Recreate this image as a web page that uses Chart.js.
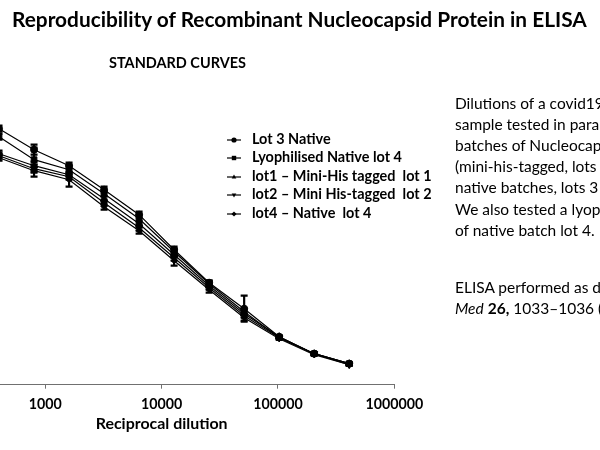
<!DOCTYPE html>
<html><head><meta charset="utf-8">
<script src="https://cdn.jsdelivr.net/npm/chart.js@4.4.1/dist/chart.umd.min.js"></script>
<style>
html,body{margin:0;padding:0;width:600px;height:450px;overflow:hidden;background:#fff;color:#000}
#wrap{position:relative;width:600px;height:450px;overflow:hidden;font-family:Lato,'Open Sans',sans-serif}
#cbox{position:absolute;left:-76px;top:0;width:676px;height:450px}
.t{position:absolute;white-space:nowrap;line-height:1;margin:0}
.lm{position:absolute}
</style></head><body>
<div id="wrap">
  <div id="cbox"><canvas id="cv" width="676" height="450"></canvas></div>
</div>
<script>
// ---------- data ----------
const dilutions = [400, 800, 1600, 3200, 6400, 12800, 25600, 51200, 102400, 204800, 409600];
const seriesNames = ['Lot 3 Native', 'Lyophilised Native lot 4', 'lot1 \u2013 Mini-His tagged  lot 1', 'lot2 \u2013 Mini His-tagged  lot 2', 'lot4 \u2013 Native  lot 4'];
const lot3Native   = [2.56, 2.35, 2.19, 1.95, 1.70, 1.35, 1.02, 0.76, 0.48, 0.31, 0.21];
const lyoLot4      = [2.48, 2.25, 2.15, 1.91, 1.66, 1.33, 1.01, 0.73, 0.47, 0.31, 0.21];
const lot1MiniHis  = [2.31, 2.19, 2.10, 1.86, 1.61, 1.30, 0.99, 0.71, 0.48, 0.31, 0.21];
const lot2MiniHis  = [2.29, 2.16, 2.08, 1.82, 1.57, 1.27, 0.97, 0.69, 0.47, 0.31, 0.20];
const lot4Native   = [2.27, 2.14, 2.05, 1.78, 1.54, 1.24, 0.95, 0.67, 0.46, 0.30, 0.20];
const lot3Err      = [0.03, 0.05, 0.03, 0.03, 0.03, 0.03, 0.02, 0.13, 0.01, 0.01, 0.01];
const lyoErr       = [0.03, 0.12, 0.04, 0.03, 0.04, 0.03, 0.03, 0.03, 0.01, 0.01, 0.01];
const lot1Err      = [0.03, 0.04, 0.03, 0.03, 0.03, 0.03, 0.02, 0.02, 0.01, 0.01, 0.01];
const lot2Err      = [0.03, 0.04, 0.03, 0.03, 0.03, 0.03, 0.02, 0.02, 0.01, 0.01, 0.01];
const lot4Err      = [0.03, 0.06, 0.07, 0.03, 0.03, 0.05, 0.03, 0.03, 0.01, 0.01, 0.01];
const xTickValues  = [1000, 10000, 100000, 1000000];
const pointStyles  = ['circle', 'rect', 'triangle', 'triangle', 'rectRot'];
const pointRotations = [0, 0, 0, 180, 0];
const pointRadii   = [3.5, 4, 4, 4, 3];

const FAMILY = "Lato, 'Open Sans', sans-serif";
const mctx = document.createElement('canvas').getContext('2d');
function fitSize(text, weight, style, target) {
  mctx.font = `${style} ${weight} 100px ${FAMILY}`;
  return 100 * target / mctx.measureText(text).width;
}
const wrap = document.getElementById('wrap');
function addText(html, x, baseline, fs, weight, style) {
  const d = document.createElement('div');
  d.className = 't';
  d.innerHTML = html;
  d.style.fontSize = fs + 'px';
  d.style.fontWeight = weight || 'normal';
  d.style.fontStyle = style || 'normal';
  d.style.left = x + 'px';
  d.style.top = (baseline - 0.887 * fs) + 'px';
  wrap.appendChild(d);
  return d;
}

// ---------- titles ----------
const mainTitle = 'Reproducibility of Recombinant Nucleocapsid Protein in ELISA';
addText(mainTitle, 12, 27, fitSize(mainTitle, 'bold', 'normal', 576), 'bold');
const sub = 'STANDARD CURVES';
addText(sub, 109, 68.5, fitSize(sub, 'bold', 'normal', 137), 'bold');

// ---------- right text ----------
const bodyFs = fitSize('of native batch lot 4.', 'normal', 'normal', 140);
const bodyLines = [
  'Dilutions of a covid19 positive serum',
  'sample tested in parallel on different',
  'batches of Nucleocapsid protein',
  '(mini-his-tagged, lots 1 and 2;',
  'native batches, lots 3 and 4).',
  'We also tested a lyophilised sample',
  'of native batch lot 4.'
];
bodyLines.forEach((l, i) => addText(l, 455, 109.8 + 21.1 * i, bodyFs));
addText('ELISA performed as described in Nat', 455, 293.5, bodyFs);
addText('<i>Med</i> <b>26,</b> 1033\u20131036 (2020).', 455, 315.2, bodyFs);

// ---------- chart ----------
const tickFs = fitSize('1000', 'bold', 'normal', 33);
const axisTitleFs = fitSize('Reciprocal dilution', 'bold', 'normal', 132);
const values = [lot3Native, lyoLot4, lot1MiniHis, lot2MiniHis, lot4Native];
const errors = [lot3Err, lyoErr, lot1Err, lot2Err, lot4Err];

const datasets = values.map((vals, k) => ({
  label: seriesNames[k],
  data: dilutions.map((d, i) => ({ x: d, y: vals[i] })),
  errors: errors[k],
  borderColor: '#000',
  borderWidth: 1.2,
  backgroundColor: '#000',
  pointBackgroundColor: '#000',
  pointBorderColor: '#000',
  pointBorderWidth: 1,
  pointStyle: pointStyles[k],
  rotation: pointRotations[k],
  pointRadius: pointRadii[k],
  tension: 0,
  fill: false
}));

const errorBars = {
  id: 'errorBars',
  afterDatasetsDraw(chart) {
    const { ctx, chartArea, scales: { x, y } } = chart;
    ctx.save();
    ctx.beginPath();
    ctx.rect(chartArea.left, chartArea.top, chartArea.width, chartArea.height);
    ctx.clip();
    ctx.strokeStyle = '#000';
    ctx.lineWidth = 2.2;
    chart.data.datasets.forEach(ds => {
      ds.data.forEach((p, i) => {
        const e = ds.errors[i];
        if (!e) return;
        const px = x.getPixelForValue(p.x);
        const t = y.getPixelForValue(p.y + e), b = y.getPixelForValue(p.y - e);
        ctx.beginPath();
        ctx.moveTo(px, t); ctx.lineTo(px, b);
        ctx.moveTo(px - 3.5, t); ctx.lineTo(px + 3.5, t);
        ctx.moveTo(px - 3.5, b); ctx.lineTo(px + 3.5, b);
        ctx.stroke();
      });
    });
    ctx.restore();
  }
};

const chart = new Chart(document.getElementById('cv'), {
  type: 'line',
  data: { datasets },
  plugins: [errorBars],
  options: {
    responsive: false,
    animation: false,
    devicePixelRatio: 1,
    layout: { padding: { left: 0, right: 205.7, top: 84.7, bottom: 16.3 } },
    plugins: { legend: { display: false }, tooltip: { enabled: false } },
    scales: {
      x: {
        type: 'logarithmic',
        min: 100, max: 1000000,
        afterBuildTicks: s => { s.ticks = xTickValues.map(v => ({ value: v })); },
        afterFit: s => { s.height = 49; },
        ticks: {
          color: '#000', padding: 7.5, autoSkip: false, maxRotation: 0,
          font: { family: FAMILY, size: tickFs, weight: 'bold' },
          callback: v => String(v)
        },
        grid: { display: true, drawOnChartArea: false, drawTicks: true, tickLength: 4, color: '#707070', lineWidth: 1 },
        border: { display: true, color: '#707070', width: 1 },
        title: {
          display: true, text: 'Reciprocal dilution', color: '#000',
          font: { family: FAMILY, size: axisTitleFs, weight: 'bold' },
          padding: { top: 0, bottom: 0 }
        }
      },
      y: { type: 'linear', display: false, min: 0, max: 3 }
    }
  }
});

// ---------- legend built from datasets ----------
const legFs = fitSize('Lyophilised Native lot 4', 'bold', 'normal', 150);
function drawMarker(c, style, rot, r, cx, cy) {
  c.save();
  c.translate(cx, cy);
  c.rotate(rot * Math.PI / 180);
  c.beginPath();
  if (style === 'circle') c.arc(0, 0, r, 0, Math.PI * 2);
  else if (style === 'rect') { const s = r * Math.SQRT1_2 * 1.2; c.rect(-s, -s, 2 * s, 2 * s); }
  else if (style === 'rectRot') { c.moveTo(0, -r); c.lineTo(r, 0); c.lineTo(0, r); c.lineTo(-r, 0); c.closePath(); }
  else if (style === 'triangle') { c.moveTo(0, -r); c.lineTo(r * 0.9, r * 0.6); c.lineTo(-r * 0.9, r * 0.6); c.closePath(); }
  c.fill();
  c.restore();
}
chart.data.datasets.forEach((ds, k) => {
  const base = 144.5 + 18.6 * k;
  const cv = document.createElement('canvas');
  cv.width = 16; cv.height = 12;
  cv.className = 'lm';
  cv.style.left = '226px';
  cv.style.top = (base - 5 - 6) + 'px';
  const c = cv.getContext('2d');
  c.strokeStyle = '#000'; c.fillStyle = '#000'; c.lineWidth = 1.2;
  c.beginPath(); c.moveTo(1, 6); c.lineTo(15, 6); c.stroke();
  drawMarker(c, ds.pointStyle, ds.rotation, 2.6, 8, 6);
  wrap.appendChild(cv);
  addText(ds.label.replace(/  /g, ' &nbsp;'), 252, base, legFs, 'bold');
});
</script>
</body></html>
